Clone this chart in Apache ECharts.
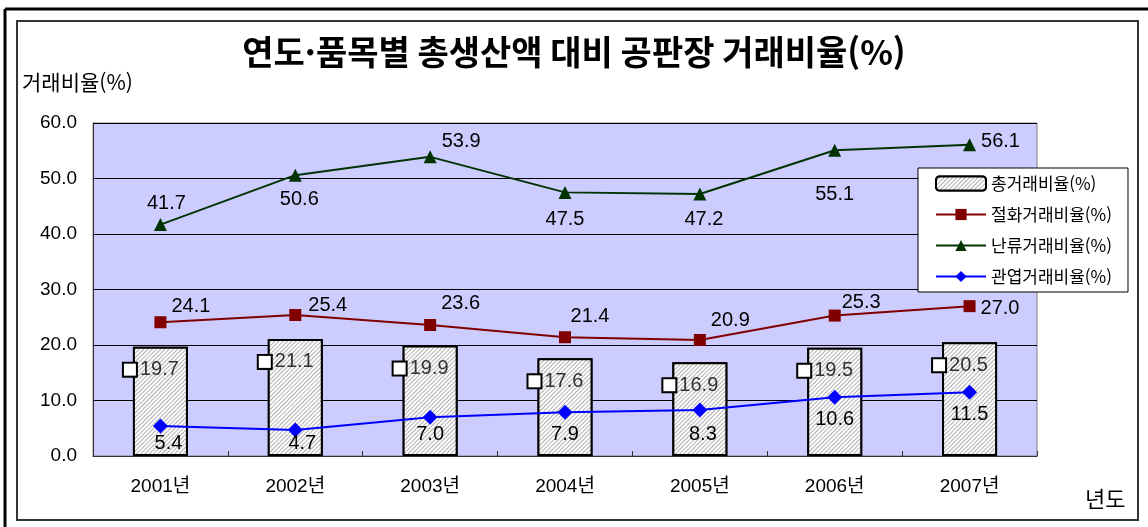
<!DOCTYPE html>
<html lang="ko">
<head>
    <meta charset="UTF-8">
    <title>연도·품목별 총생산액 대비 공판장 거래비율</title>
    <script src="https://cdn.jsdelivr.net/npm/echarts@6/dist/echarts.min.js"></script>
    <style>
        html, body { margin: 0; padding: 0; background: #fff; }
    </style>
</head>
<body>
<div id="main" style="width: 1148px; height: 527px;"></div>
</body>
<script>
    // 데이터
    var years = ['2001년', '2002년', '2003년', '2004년', '2005년', '2006년', '2007년']
    var totalRate = [19.7, 21.1, 19.9, 17.6, 16.9, 19.5, 20.5]     // 총거래비율
    var cutRate = [24.1, 25.4, 23.6, 21.4, 20.9, 25.3, 27.0]       // 절화거래비율
    var orchidRate = [41.7, 50.6, 53.9, 47.5, 47.2, 55.1, 56.1]    // 난류거래비율
    var foliageRate = [5.4, 4.7, 7.0, 7.9, 8.3, 10.6, 11.5]        // 관엽거래비율
    var yTicks = [0, 10, 20, 30, 40, 50, 60]

    var numFont = '"Liberation Sans", Arial, "Noto Sans CJK KR", sans-serif'
    var korFont = '"Noto Sans CJK KR", "Liberation Sans", sans-serif'

    // 라벨 위치 (점마다)
    var cutPos = [['right', [0, -16]], ['right', [2, -10]], ['right', [0, -22]], ['top', [25, 0]],
        ['right', [0, -20]], ['right', [-4, -13]], ['right', [0, 2]]]
    var orchidPos = [['top', [6, 0]], ['bottom', [4, 3]], ['right', [0, -15]], ['bottom', [0, 6]],
        ['bottom', [4, 4]], ['bottom', [0, 23]], ['right', [0, -3]]]
    var foliagePos = [['bottom', [8, -5]], ['bottom', [7, -9]], ['bottom', [0, -5]], ['bottom', [0, 0]],
        ['bottom', [3, 2]], ['bottom', [0, 0]], ['bottom', [0, 0]]]

    function withLabels(values, pos) {
        return values.map(function (v, i) {
            return { value: v, label: { position: pos[i][0], offset: pos[i][1] } }
        })
    }

    // 막대 빗금
    var hatch = {
        color: '#b0b0b0',
        backgroundColor: '#fff',
        dashArrayX: [1, 0],
        dashArrayY: [1, 2],
        symbolSize: 1,
        rotation: -Math.PI / 4
    }

    var labelText = { fontSize: 20, color: '#000', fontFamily: numFont }

    var myChart = echarts.init(document.getElementById('main'))
    var option = {
        backgroundColor: '#fff',
        animation: false,
        title: {
            text: '연도·품목별 총생산액 대비 공판장 거래비율(%)',
            left: 'center',
            top: 30,
            textStyle: { fontSize: 34, fontWeight: 'bold', color: '#000', fontFamily: korFont }
        },
        graphic: [
            { type: 'line', shape: { x1: 5, y1: 9, x2: 1148, y2: 9 }, style: { stroke: '#000', lineWidth: 3 } },
            { type: 'line', shape: { x1: 5, y1: 9, x2: 5, y2: 527 }, style: { stroke: '#000', lineWidth: 3 } },
            { type: 'rect', shape: { x: 17, y: 21, width: 1121, height: 499 }, style: { fill: 'none', stroke: '#333', lineWidth: 2 } },
            { type: 'text', left: 22, top: 72, style: { text: '거래비율(%)', fill: '#000', font: '21px ' + korFont } },
            { type: 'text', left: 1085, top: 488, style: { text: '년도', fill: '#000', font: '22px ' + korFont } }
        ],
        legend: {
            orient: 'vertical',
            left: 918,
            top: 168,
            padding: [7, 16, 7, 17],
            itemWidth: 50,
            itemHeight: 14,
            itemGap: 14,
            backgroundColor: '#fff',
            borderColor: '#000',
            borderWidth: 1,
            textStyle: { fontSize: 17, color: '#000', fontFamily: korFont },
            data: ['총거래비율(%)', '절화거래비율(%)', '난류거래비율(%)', '관엽거래비율(%)']
        },
        grid: {
            show: true,
            left: 93,
            right: 111,
            top: 123,
            bottom: 71,
            backgroundColor: '#CCCCFF',
            borderColor: '#808080',
            borderWidth: 1
        },
        xAxis: {
            type: 'category',
            data: years,
            boundaryGap: true,
            axisLine: { lineStyle: { color: '#333', width: 1 } },
            axisTick: { show: true, inside: true, length: 5, lineStyle: { color: '#333' } },
            axisLabel: { margin: 21, fontSize: 19, color: '#000', fontFamily: numFont }
        },
        yAxis: {
            type: 'value',
            min: yTicks[0],
            max: yTicks[yTicks.length - 1],
            interval: 10,
            axisLine: { show: true, lineStyle: { color: '#333', width: 1 } },
            axisTick: { show: false },
            axisLabel: {
                margin: 16, fontSize: 19, color: '#000', fontFamily: numFont,
                formatter: function (v) { return v.toFixed(1) }
            },
            splitLine: { show: true, lineStyle: { color: '#000', width: 1 } }
        },
        series: [
            {
                name: '총거래비율(%)',
                type: 'bar',
                barWidth: 55,
                data: totalRate,
                itemStyle: { color: '#fff', borderColor: '#000', borderWidth: 2, decal: hatch },
                label: {
                    show: true,
                    position: [-9, 13],
                    formatter: function (p) { return '{box|}{val|' + p.value.toFixed(1) + '}' },
                    rich: {
                        box: { width: 12, height: 12, backgroundColor: '#fff', borderColor: '#000', borderWidth: 2 },
                        val: { fontSize: 20, color: '#333', fontFamily: numFont, padding: [0, 0, 0, 4] }
                    }
                },
                z: 2
            },
            {
                name: '절화거래비율(%)',
                type: 'line',
                data: withLabels(cutRate, cutPos),
                symbol: 'rect',
                symbolSize: 12,
                lineStyle: { color: '#800000', width: 2 },
                itemStyle: { color: '#800000' },
                label: Object.assign({ show: true, formatter: function (p) { return p.value.toFixed(1) } }, labelText),
                z: 3
            },
            {
                name: '난류거래비율(%)',
                type: 'line',
                data: withLabels(orchidRate, orchidPos),
                symbol: 'triangle',
                symbolSize: 13,
                lineStyle: { color: '#003300', width: 2 },
                itemStyle: { color: '#003300' },
                label: Object.assign({ show: true, formatter: function (p) { return p.value.toFixed(1) } }, labelText),
                z: 3
            },
            {
                name: '관엽거래비율(%)',
                type: 'line',
                data: withLabels(foliageRate, foliagePos),
                symbol: 'diamond',
                symbolSize: 15,
                lineStyle: { color: '#0000FF', width: 2 },
                itemStyle: { color: '#0000FF' },
                label: Object.assign({ show: true, formatter: function (p) { return p.value.toFixed(1) } }, labelText),
                z: 3
            }
        ]
    };
    myChart.setOption(option);
</script>
</html>
